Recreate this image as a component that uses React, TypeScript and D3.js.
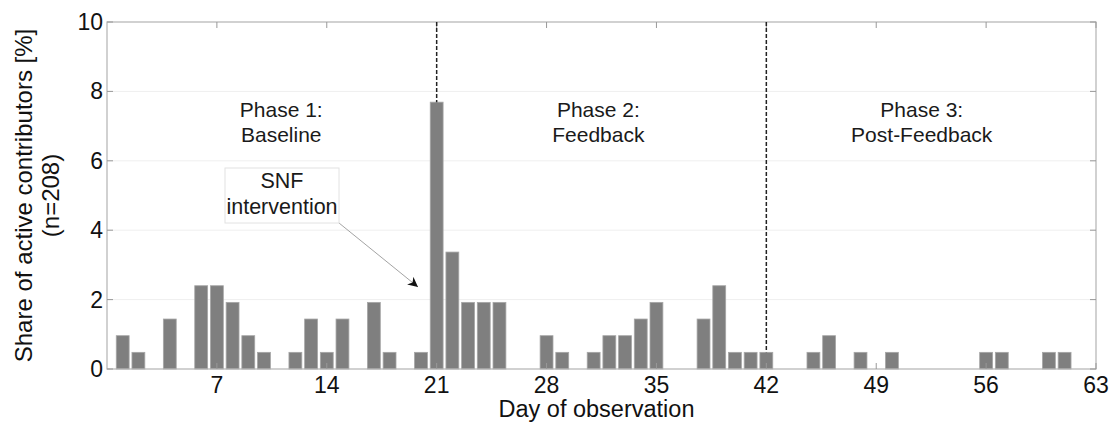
import React, { useEffect, useRef } from 'react';
import * as d3 from 'd3';

// days with at least one active contributor, share in % of n=208
const days = [1, 2, 4, 6, 7, 8, 9, 10, 12, 13, 14, 15, 17, 18, 20, 21, 22, 23, 24, 25, 28, 29, 31, 32, 33, 34, 35, 38, 39, 40, 41, 42, 45, 46, 48, 50, 56, 57, 60, 61];
const shares = [0.96, 0.48, 1.44, 2.40, 2.40, 1.92, 0.96, 0.48, 0.48, 1.44, 0.48, 1.44, 1.92, 0.48, 0.48, 7.69, 3.37, 1.92, 1.92, 1.92, 0.96, 0.48, 0.48, 0.96, 0.96, 1.44, 1.92, 1.44, 2.40, 0.48, 0.48, 0.48, 0.48, 0.96, 0.48, 0.48, 0.48, 0.48, 0.48, 0.48];

const xTicks = [7, 14, 21, 28, 35, 42, 49, 56, 63];
const yTicks = [0, 2, 4, 6, 8, 10];
const phaseBreaks = [21, 42];
const phaseTitles = ['Phase 1:', 'Phase 2:', 'Phase 3:'];
const phaseNames = ['Baseline', 'Feedback', 'Post-Feedback'];

const FONT = '"Liberation Sans", Arial, Helvetica, sans-serif';

export default function App() {
  const svgRef = useRef<SVGSVGElement>(null);

  useEffect(() => {
    if (!svgRef.current) return;
    const svg = d3.select(svgRef.current);
    svg.selectAll('*').remove();

    const left = 107, right = 1096, top = 22, bottom = 369;
    const x = d3.scaleLinear().domain([0, 63]).range([left, right]);
    const y = d3.scaleLinear().domain([0, 10]).range([bottom, top]);
    const barW = (x(1) - x(0)) * 0.82;

    svg.append('defs').append('marker')
      .attr('id', 'arrowhead')
      .attr('viewBox', '0 0 10 10')
      .attr('refX', 10).attr('refY', 5)
      .attr('markerWidth', 10).attr('markerHeight', 10)
      .attr('markerUnits', 'userSpaceOnUse')
      .attr('orient', 'auto')
      .append('path').attr('d', 'M0,0 L10,5 L0,10 L3,5 Z').attr('fill', '#111');

    // gridlines
    svg.selectAll('.grid').data(yTicks.filter(t => t > 0 && t < 10)).enter().append('line')
      .attr('x1', left).attr('x2', right)
      .attr('y1', d => y(d)).attr('y2', d => y(d))
      .attr('stroke', '#efefef').attr('stroke-width', 1);

    // bars
    svg.selectAll('.bar').data(days).enter().append('rect')
      .attr('x', d => x(d) - barW / 2)
      .attr('y', (d, i) => y(shares[i]))
      .attr('width', barW)
      .attr('height', (d, i) => bottom - y(shares[i]))
      .attr('fill', '#7f7f7f')
      .attr('stroke', '#a6a6a6')
      .attr('stroke-width', 0.8);

    // box
    svg.append('rect').attr('x', left).attr('y', top).attr('width', right - left).attr('height', bottom - top)
      .attr('fill', 'none').attr('stroke', '#b3b3b3').attr('stroke-width', 1.2);

    // ticks inside
    const tl = 6;
    xTicks.forEach(t => {
      svg.append('line').attr('x1', x(t)).attr('x2', x(t)).attr('y1', bottom).attr('y2', bottom - tl).attr('stroke', '#999');
      svg.append('line').attr('x1', x(t)).attr('x2', x(t)).attr('y1', top).attr('y2', top + tl).attr('stroke', '#999');
    });
    yTicks.forEach(t => {
      svg.append('line').attr('x1', left).attr('x2', left + tl).attr('y1', y(t)).attr('y2', y(t)).attr('stroke', '#999');
      svg.append('line').attr('x1', right).attr('x2', right - tl).attr('y1', y(t)).attr('y2', y(t)).attr('stroke', '#999');
    });

    // tick labels
    svg.selectAll('.xt').data(xTicks).enter().append('text')
      .attr('x', d => x(d)).attr('y', 393)
      .attr('text-anchor', 'middle').attr('font-size', 23).attr('font-family', FONT).attr('fill', '#111')
      .text(d => d);
    svg.selectAll('.yt').data(yTicks).enter().append('text')
      .attr('x', left - 4).attr('y', d => y(d) + 8)
      .attr('text-anchor', 'end').attr('font-size', 23).attr('font-family', FONT).attr('fill', '#111')
      .text(d => d);

    // axis titles
    svg.append('text').attr('x', (left + right) / 2 - 5).attr('y', 417)
      .attr('text-anchor', 'middle').attr('font-size', 23.5).attr('font-family', FONT).attr('fill', '#111')
      .text('Day of observation');
    const yl = svg.append('text').attr('transform', `translate(0,${(top + bottom) / 2}) rotate(-90)`)
      .attr('text-anchor', 'middle').attr('font-size', 24).attr('font-family', FONT).attr('fill', '#111');
    yl.append('tspan').attr('x', 0).attr('y', 32).text('Share of active contributors [%]');
    yl.append('tspan').attr('x', 0).attr('y', 59).text('(n=208)');

    // phase boundaries
    phaseBreaks.forEach(b => {
      const i = days.indexOf(b);
      svg.append('line').attr('x1', x(b)).attr('x2', x(b)).attr('y1', top).attr('y2', y(shares[i]))
        .attr('stroke', '#222').attr('stroke-width', 1.5).attr('stroke-dasharray', '4,2');
    });

    // phase labels
    const phaseX = [11.1, 31.3, 51.9];
    phaseTitles.forEach((t, i) => {
      const tx = svg.append('text').attr('text-anchor', 'middle').attr('font-size', 21)
        .attr('font-family', FONT).attr('fill', '#1a1a1a');
      tx.append('tspan').attr('x', x(phaseX[i])).attr('y', 117).text(t);
      tx.append('tspan').attr('x', x(phaseX[i])).attr('y', 142).text(phaseNames[i]);
    });

    // SNF annotation
    const bx = 225, by = 168, bw = 114, bh = 55;
    svg.append('line').attr('x1', bx + bw).attr('y1', by + bh).attr('x2', 418).attr('y2', 287)
      .attr('stroke', '#999').attr('stroke-width', 0.9).attr('marker-end', 'url(#arrowhead)');
    svg.append('rect').attr('x', bx).attr('y', by).attr('width', bw).attr('height', bh)
      .attr('fill', 'white').attr('stroke', '#e2e2e2').attr('stroke-width', 1);
    const snf = svg.append('text').attr('text-anchor', 'middle').attr('font-size', 21.5)
      .attr('font-family', FONT).attr('fill', '#1a1a1a');
    snf.append('tspan').attr('x', bx + bw / 2).attr('y', 188).text('SNF');
    snf.append('tspan').attr('x', bx + bw / 2).attr('y', 214).text('intervention');
  }, []);

  return (
    <div style={{ position: 'absolute', left: 0, top: 0 }}>
      <svg ref={svgRef} width={1113} height={424} style={{ display: 'block', background: 'white' }}></svg>
    </div>
  );
}
